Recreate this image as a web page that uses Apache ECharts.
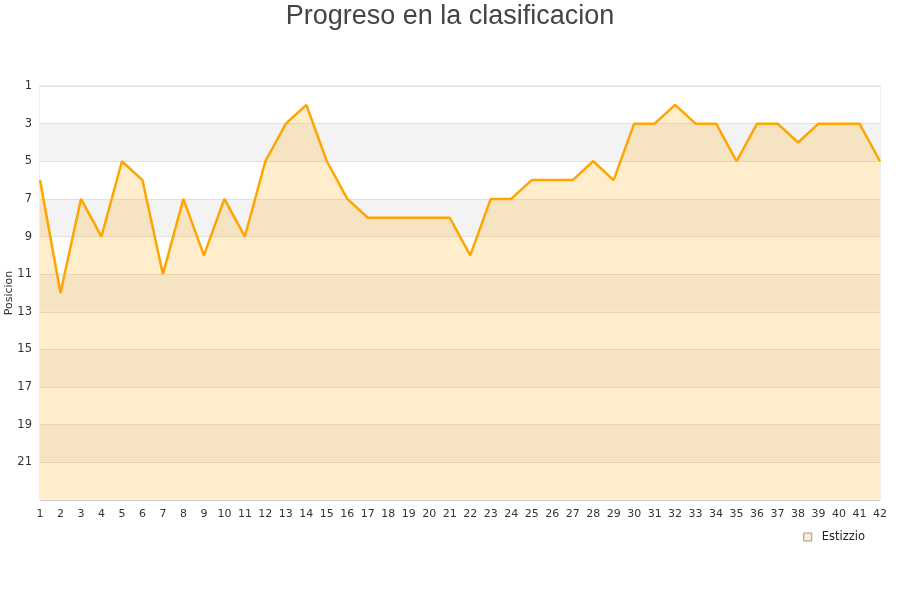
<!DOCTYPE html>
<html>
<head>
<meta charset="utf-8">
<script src="https://cdn.jsdelivr.net/npm/echarts@6/dist/echarts.min.js"></script>
<style>
  html, body { margin: 0; padding: 0; background: #fff; }
  #chart { width: 900px; height: 600px; }
</style>
</head>
<body>
<div id="chart"></div>
<script>
// jornadas y posicion de Estizzio
var jornadas = [];
for (var j = 1; j <= 42; j++) jornadas.push(String(j));
var posiciones = [6, 12, 7, 9, 5, 6, 11, 7, 10, 7, 9, 5, 3, 2, 5, 7, 8, 8, 8, 8, 8,
                  10, 7, 7, 6, 6, 6, 5, 6, 3, 3, 2, 3, 3, 5, 3, 3, 4, 3, 3, 3, 5];
var equipo = 'Estizzio';

var chart = echarts.init(document.getElementById('chart'));
chart.setOption({
    animation: false,
    title: {
        text: 'Progreso en la clasificacion',
        left: 'center',
        top: -2,
        textStyle: {
            fontFamily: 'Liberation Sans',
            fontSize: 27,
            fontWeight: 'normal',
            color: '#444'
        }
    },
    legend: {
        data: [{
            name: equipo,
            itemStyle: { color: '#ffedcc', borderColor: '#999', borderWidth: 1 }
        }],
        right: 30,
        top: 526,
        icon: 'rect',
        itemWidth: 8,
        itemHeight: 8,
        itemGap: 6,
        textStyle: {
            fontFamily: 'DejaVu Sans',
            fontSize: 11.5,
            color: '#222',
            padding: [0, 0, 0, 5]
        }
    },
    grid: {
        left: 40,
        right: 20,
        top: 86,
        bottom: 100,
        outerBoundsMode: 'none',
        containLabel: false,
        show: true,
        borderColor: '#dcdcdc',
        borderWidth: 1
    },
    xAxis: {
        type: 'category',
        data: jornadas,
        boundaryGap: false,
        axisLine: { lineStyle: { color: '#d0d0d0' } },
        axisTick: { show: false },
        axisLabel: {
            interval: 0,
            margin: 9,
            fontFamily: 'DejaVu Sans',
            fontSize: 11,
            color: '#333'
        },
        splitLine: { show: false }
    },
    yAxis: {
        type: 'value',
        inverse: true,
        min: 1,
        max: 23,
        interval: 2,
        name: 'Posicion',
        nameLocation: 'middle',
        nameGap: 25,
        nameMoveOverlap: false,
        nameTextStyle: { fontFamily: 'DejaVu Sans', fontSize: 11, color: '#333' },
        axisLine: { show: false },
        axisTick: { show: false },
        axisLabel: {
            margin: 8,
            fontFamily: 'DejaVu Sans',
            fontSize: 11.5,
            color: '#333',
            formatter: function (v) { return v === 23 ? '' : v; }
        },
        splitLine: { show: true, lineStyle: { color: '#e0e0e0' } },
        splitArea: { show: true, areaStyle: { color: ['#ffffff', '#f3f3f3'] } }
    },
    series: [{
        name: equipo,
        type: 'line',
        data: posiciones,
        symbol: 'none',
        lineStyle: { color: '#ffa500', width: 2.5 },
        itemStyle: { color: '#ffa500' },
        areaStyle: { color: '#ffa500', opacity: 0.2, origin: 'end' }
    }]
});
</script>
</body>
</html>
